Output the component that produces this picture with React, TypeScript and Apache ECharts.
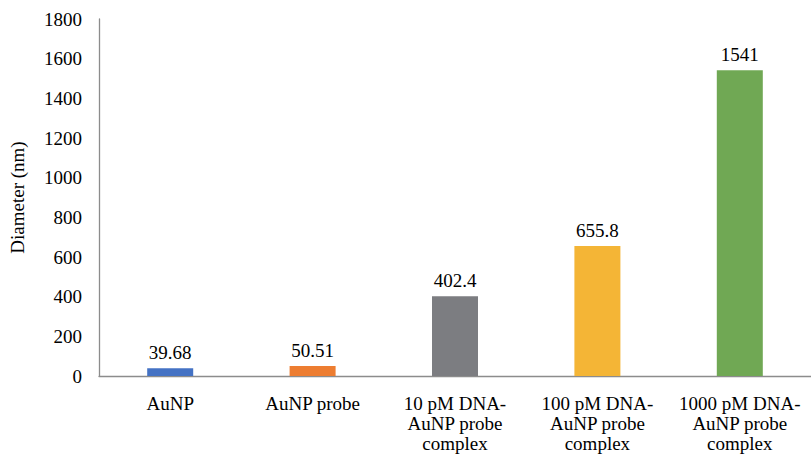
import React, { useEffect, useRef } from "react";
import * as echarts from "echarts";

const categories = [
  "AuNP",
  "AuNP probe",
  "10 pM DNA-\nAuNP probe\ncomplex",
  "100 pM DNA-\nAuNP probe\ncomplex",
  "1000 pM DNA-\nAuNP probe\ncomplex",
];
const values = [39.68, 50.51, 402.4, 655.8, 1541];
const barColors = ["#4472C4", "#ED7D31", "#7C7D81", "#F4B536", "#70A854"];
const yTicks = { min: 0, max: 1800, interval: 200 };

export default function App() {
  const ref = useRef<HTMLDivElement>(null);
  useEffect(() => {
    if (!ref.current) return;
    const chart = echarts.init(ref.current, undefined, { renderer: "svg" });
    const font = "Liberation Serif";
    chart.setOption({
      animation: false,
      textStyle: { fontFamily: font },
      grid: { left: 97, right: -12, top: 19, bottom: 80, containLabel: false },
      xAxis: {
        type: "category",
        data: categories,
        axisLine: { show: true, lineStyle: { color: "#8C8C8C", width: 1.3 } },
        axisTick: { show: false },
        axisLabel: {
          interval: 0,
          fontFamily: font,
          fontSize: 19,
          color: "#000",
          lineHeight: 20,
          margin: 17,
        },
      },
      yAxis: {
        type: "value",
        min: yTicks.min,
        max: yTicks.max,
        interval: yTicks.interval,
        name: "Diameter (nm)",
        nameLocation: "middle",
        nameGap: 72,
        nameRotate: 90,
        nameTextStyle: { fontFamily: font, fontSize: 19, color: "#000" },
        axisLine: { show: true, lineStyle: { color: "#8C8C8C", width: 1.3 } },
        axisTick: { show: false },
        splitLine: { show: false },
        axisLabel: {
          fontFamily: font,
          fontSize: 19,
          color: "#000",
          margin: 17,
          formatter: (v: number) => String(v),
        },
      },
      series: [
        {
          type: "bar",
          barWidth: 46,
          data: values.map((v, i) => ({ value: v, itemStyle: { color: barColors[i] } })),
          label: {
            show: true,
            position: "top",
            distance: 6,
            fontFamily: font,
            fontSize: 19,
            color: "#000",
          },
        },
      ],
    });
    return () => chart.dispose();
  }, []);
  return (
    <div
      ref={ref}
      style={{ position: "fixed", left: 0, top: 0, width: 811, height: 456, background: "#fff" }}
    />
  );
}
